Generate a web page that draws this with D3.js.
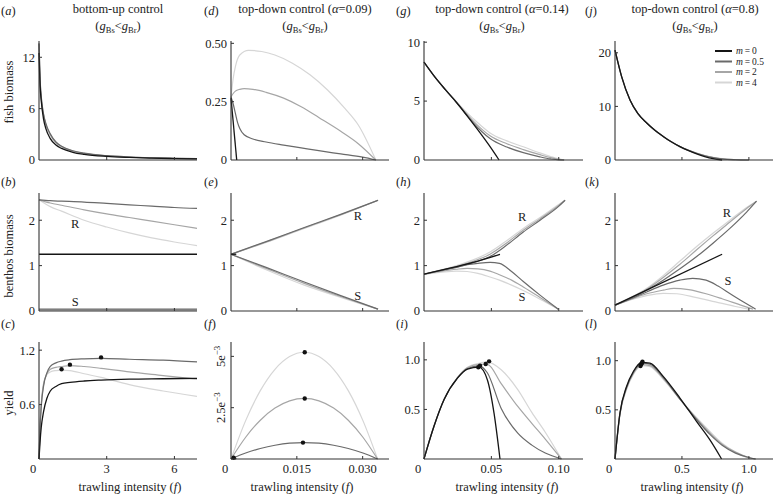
<!DOCTYPE html>
<html>
<head>
<meta charset="utf-8">
<script src="https://cdn.jsdelivr.net/npm/d3@7"></script>
<style>
  body { margin: 0; background: #fff; }
  text { font-family: "Liberation Serif", "DejaVu Serif", serif; fill: #222; }
</style>
</head>
<body>
<svg id="chart" width="774" height="497"></svg>
<script>
// shades for m = 0, 0.5, 2, 4
const shades = ["#151515", "#6a6a6a", "#a6a6a6", "#d6d6d6"];
const mValues = ["0", "0.5", "2", "4"];

// (a) fish biomass, bottom-up
const aF   = [0, 0.05, 0.1, 0.2, 0.3, 0.5, 0.75, 1, 1.5, 2, 3, 4, 5, 6, 7];
const aM0  = [12.5, 8.6, 6.9, 4.8, 3.7, 2.5, 1.75, 1.35, 0.9, 0.66, 0.42, 0.3, 0.22, 0.17, 0.13];
const aM05 = [13.6, 9.4, 7.4, 5.4, 4.3, 3.05, 2.1, 1.6, 1.08, 0.8, 0.5, 0.35, 0.26, 0.2, 0.16];
const aM2  = [13.6, 9.2, 7.2, 5.3, 4.2, 2.95, 2.05, 1.57, 1.05, 0.78, 0.48, 0.34, 0.25, 0.19, 0.15];
const aM4  = [13.6, 9.0, 7.0, 5.2, 4.1, 2.9, 2.0, 1.53, 1.02, 0.76, 0.47, 0.33, 0.24, 0.18, 0.14];

// (d) fish biomass, alpha = 0.09
const dM0F  = [0, 0.0013];
const dM0   = [0.265, 0];
const dM05F = [0, 0.0005, 0.001, 0.0015, 0.002, 0.003, 0.005, 0.008, 0.012, 0.016, 0.020, 0.025, 0.030, 0.033];
const dM05  = [0.27, 0.24, 0.2, 0.16, 0.135, 0.108, 0.09, 0.077, 0.064, 0.052, 0.04, 0.026, 0.012, 0];
const dM2F  = [0, 0.0005, 0.001, 0.002, 0.003, 0.005, 0.008, 0.012, 0.016, 0.020, 0.025, 0.029, 0.033];
const dM2   = [0.27, 0.285, 0.295, 0.303, 0.306, 0.303, 0.29, 0.265, 0.228, 0.182, 0.123, 0.07, 0];
const dM4F  = [0, 0.0005, 0.001, 0.002, 0.004, 0.007, 0.010, 0.014, 0.018, 0.022, 0.026, 0.029, 0.033];
const dM4   = [0.27, 0.35, 0.40, 0.45, 0.47, 0.465, 0.45, 0.415, 0.365, 0.3, 0.22, 0.15, 0];

// (g) fish biomass, alpha = 0.14
const gM0F   = [0, 0.008, 0.016, 0.024, 0.032, 0.040, 0.048, 0.0557];
const gM0    = [8.3, 7.05, 5.95, 4.9, 3.75, 2.55, 1.3, 0];
const gGrayF = [0, 0.008, 0.016, 0.024, 0.030, 0.0366, 0.043, 0.049, 0.0615, 0.0737, 0.086, 0.094, 0.1, 0.104];
const gM05   = [8.3, 7.05, 5.95, 4.9, 4.05, 3.15, 2.4, 1.82, 1.1, 0.62, 0.27, 0.09, 0.01, 0];
const gM2    = [8.3, 7.05, 5.95, 4.92, 4.12, 3.3, 2.6, 2.05, 1.38, 0.88, 0.45, 0.2, 0.06, 0];
const gM4    = [8.3, 7.05, 5.97, 4.97, 4.22, 3.5, 2.85, 2.3, 1.62, 1.12, 0.6, 0.3, 0.1, 0];

// (j) fish biomass, alpha = 0.8
const jM0F   = [0, 0.05, 0.112, 0.17, 0.237, 0.3, 0.36, 0.42, 0.485, 0.55, 0.61, 0.67, 0.733, 0.8];
const jM0    = [20.5, 15.5, 11.2, 8.7, 6.9, 5.5, 4.4, 3.4, 2.5, 1.75, 1.15, 0.65, 0.25, 0];
const jGrayF = [0, 0.05, 0.112, 0.17, 0.237, 0.3, 0.36, 0.42, 0.485, 0.55, 0.61, 0.67, 0.733, 0.8, 0.9, 1.0];
const jM05   = [20.5, 15.5, 11.2, 8.7, 6.9, 5.5, 4.4, 3.4, 2.5, 1.8, 1.25, 0.8, 0.45, 0.2, 0.05, 0];
const jM2    = [20.5, 15.5, 11.2, 8.7, 6.9, 5.5, 4.4, 3.4, 2.5, 1.8, 1.26, 0.82, 0.47, 0.22, 0.06, 0];
const jM4    = [20.5, 15.5, 11.2, 8.7, 6.9, 5.5, 4.4, 3.4, 2.5, 1.8, 1.27, 0.84, 0.49, 0.24, 0.07, 0];

// (b) benthos, bottom-up
const bF    = [0, 0.5, 1, 2, 3, 4, 5, 6, 7];
const bM0   = [1.25, 1.25, 1.25, 1.25, 1.25, 1.25, 1.25, 1.25, 1.25];
const bRM05 = [2.45, 2.43, 2.42, 2.4, 2.37, 2.34, 2.31, 2.28, 2.26];
const bRM2  = [2.45, 2.38, 2.33, 2.23, 2.14, 2.06, 1.98, 1.9, 1.82];
const bRM4  = [2.45, 2.3, 2.2, 2.0, 1.85, 1.72, 1.61, 1.52, 1.44];
const bSM05 = [0.04, 0.04, 0.04, 0.04, 0.04, 0.04, 0.04, 0.04, 0.04];
const bSM2  = [0.025, 0.025, 0.025, 0.025, 0.025, 0.025, 0.025, 0.025, 0.025];
const bSM4  = [0.012, 0.012, 0.012, 0.012, 0.012, 0.012, 0.012, 0.012, 0.012];

// (e) benthos, alpha = 0.09
const eM0F  = [0, 0.0012];
const eM0   = [1.25, 1.25];
const eF    = [0, 0.008, 0.0167, 0.025, 0.0335];
const eRM05 = [1.25, 1.53, 1.84, 2.13, 2.44];
const eRM2  = [1.25, 1.52, 1.83, 2.12, 2.44];
const eRM4  = [1.25, 1.51, 1.82, 2.11, 2.44];
const eSM05 = [1.25, 0.96, 0.64, 0.34, 0.04];
const eSM2  = [1.25, 0.94, 0.61, 0.32, 0.04];
const eSM4  = [1.25, 0.91, 0.57, 0.3, 0.04];

// (h) benthos, alpha = 0.14
const hM0F  = [0, 0.02, 0.04, 0.0564];
const hM0   = [0.81, 0.95, 1.1, 1.25];
const hRF   = [0, 0.012, 0.024, 0.036, 0.049, 0.06, 0.0737, 0.0861, 0.0997, 0.1047];
const hRM05 = [0.81, 0.88, 0.96, 1.06, 1.2, 1.42, 1.74, 2.0, 2.3, 2.44];
const hRM2  = [0.81, 0.89, 0.98, 1.09, 1.25, 1.47, 1.78, 2.03, 2.32, 2.44];
const hRM4  = [0.81, 0.9, 1.0, 1.12, 1.3, 1.52, 1.82, 2.06, 2.34, 2.44];
const hSF   = [0, 0.012, 0.024, 0.032, 0.04, 0.049, 0.056, 0.065, 0.0737, 0.0861, 0.0997];
const hSM05 = [0.81, 0.89, 0.97, 1.02, 1.05, 1.07, 1.05, 0.87, 0.65, 0.35, 0.04];
const hSM2  = [0.81, 0.87, 0.92, 0.94, 0.93, 0.88, 0.8, 0.68, 0.53, 0.3, 0.04];
const hSM4  = [0.81, 0.85, 0.88, 0.87, 0.83, 0.75, 0.68, 0.57, 0.45, 0.26, 0.04];

// (k) benthos, alpha = 0.8
const kM0F   = [0, 0.8];
const kM0    = [0.13, 1.25];
const kRF    = [0, 0.12, 0.237, 0.36, 0.485, 0.61, 0.734, 0.858, 0.983, 1.057];
const kRM05  = [0.13, 0.28, 0.46, 0.68, 0.93, 1.2, 1.5, 1.82, 2.18, 2.42];
const kRM2   = [0.13, 0.29, 0.48, 0.74, 1.03, 1.35, 1.66, 1.96, 2.26, 2.42];
const kRM4   = [0.13, 0.3, 0.5, 0.78, 1.1, 1.42, 1.72, 2.0, 2.28, 2.42];
const kSM05F = [0, 0.12, 0.237, 0.36, 0.485, 0.58, 0.68, 0.77, 0.86, 0.96, 1.05];
const kSM05  = [0.13, 0.27, 0.42, 0.57, 0.68, 0.72, 0.68, 0.55, 0.38, 0.2, 0.04];
const kSM2F  = [0, 0.12, 0.237, 0.36, 0.44, 0.55, 0.68, 0.8, 0.92, 1.03];
const kSM2   = [0.13, 0.26, 0.38, 0.46, 0.5, 0.47, 0.38, 0.27, 0.15, 0.04];
const kSM4F  = [0, 0.12, 0.237, 0.36, 0.46, 0.6, 0.75, 0.9, 1.0];
const kSM4   = [0.13, 0.25, 0.34, 0.39, 0.38, 0.3, 0.2, 0.1, 0.04];

// (c) yield, bottom-up
const cF    = [0, 0.05, 0.1, 0.2, 0.35, 0.5, 0.75, 1, 1.37, 2, 2.75, 4, 5.5, 7];
const cM0   = [0, 0.2, 0.35, 0.52, 0.67, 0.75, 0.8, 0.83, 0.845, 0.86, 0.87, 0.88, 0.885, 0.89];
const cM05  = [0, 0.35, 0.58, 0.8, 0.95, 1.02, 1.06, 1.08, 1.095, 1.105, 1.11, 1.1, 1.09, 1.07];
const cM2   = [0, 0.38, 0.6, 0.82, 0.94, 0.99, 1.01, 1.02, 1.03, 1.02, 1.0, 0.96, 0.92, 0.88];
const cM4   = [0, 0.4, 0.62, 0.83, 0.93, 0.96, 0.975, 0.98, 0.975, 0.94, 0.9, 0.82, 0.75, 0.69];
const cDotF = [1.0, 1.37, 2.75];
const cDotY = [0.99, 1.04, 1.12];

// (f) yield, alpha = 0.09
const fM0F  = [0, 0.0006, 0.0012];
const fM0   = [0, 0.00006, 0];
const fF    = [0, 0.00334, 0.00668, 0.01002, 0.01336, 0.0167, 0.02004, 0.02338, 0.02672, 0.03006, 0.0334];
const fM05  = [0, 0.29e-3, 0.51e-3, 0.67e-3, 0.77e-3, 0.8e-3, 0.77e-3, 0.67e-3, 0.51e-3, 0.29e-3, 0];
const fM2   = [0, 1.06e-3, 1.89e-3, 2.48e-3, 2.83e-3, 2.95e-3, 2.83e-3, 2.48e-3, 1.89e-3, 1.06e-3, 0];
const fM4   = [0, 1.87e-3, 3.33e-3, 4.37e-3, 4.99e-3, 5.2e-3, 4.99e-3, 4.37e-3, 3.33e-3, 1.87e-3, 0];
const fDotF = [0.0006, 0.0164, 0.0168, 0.0168];
const fDotY = [0.00006, 0.8e-3, 2.95e-3, 5.2e-3];

// (i) yield, alpha = 0.14
const iM0F   = [0, 0.0074, 0.0149, 0.0248, 0.0322, 0.0408, 0.047, 0.052, 0.0564];
const iM0    = [0, 0.33, 0.6, 0.815, 0.906, 0.926, 0.8, 0.46, 0];
const iGrayF = [0, 0.0074, 0.0149, 0.0248, 0.0322, 0.0408, 0.047, 0.0573, 0.0696, 0.08, 0.09, 0.102];
const iM05   = [0, 0.33, 0.6, 0.815, 0.91, 0.94, 0.87, 0.51, 0.26, 0.14, 0.06, 0];
const iM2    = [0, 0.33, 0.6, 0.82, 0.92, 0.955, 0.955, 0.76, 0.53, 0.36, 0.2, 0];
const iM4    = [0, 0.33, 0.6, 0.82, 0.925, 0.965, 0.98, 0.9, 0.7, 0.47, 0.27, 0];
const iDotF  = [0.0403, 0.0416, 0.0458, 0.0483];
const iDotY  = [0.926, 0.94, 0.958, 0.985];

// (l) yield, alpha = 0.8
const lM0F   = [0, 0.0373, 0.087, 0.137, 0.199, 0.261, 0.36, 0.485, 0.61, 0.709, 0.796];
const lM0    = [0, 0.47, 0.74, 0.89, 0.983, 0.976, 0.84, 0.62, 0.38, 0.194, 0];
const lGrayF = [0, 0.0373, 0.087, 0.137, 0.199, 0.261, 0.36, 0.485, 0.61, 0.709, 0.8, 0.9, 1.0, 1.05];
const lM05   = [0, 0.47, 0.73, 0.88, 0.975, 0.965, 0.83, 0.61, 0.4, 0.25, 0.14, 0.06, 0.015, 0];
const lM2    = [0, 0.46, 0.72, 0.87, 0.96, 0.95, 0.82, 0.61, 0.41, 0.265, 0.15, 0.07, 0.015, 0];
const lM4    = [0, 0.45, 0.71, 0.86, 0.95, 0.94, 0.81, 0.61, 0.42, 0.28, 0.16, 0.07, 0.01, 0];
const lDotF  = [0.19, 0.195, 0.2, 0.205];
const lDotY  = [0.945, 0.96, 0.975, 0.99];

// axes
const xDomainMax = [7, 0.036, 0.118, 1.18];
const xTicks     = [[0, 3, 6], [0, 0.015, 0.030], [0, 0.05, 0.10], [0, 0.5, 1.0]];
const xTickText  = [["0", "3", "6"], ["0", "0.015", "0.030"], ["0", "0.05", "0.10"], ["0", "0.5", "1.0"]];
const yDomainMax = [[13.9, 0.51, 10.1, 22.2], [2.6, 2.6, 2.6, 2.6], [1.29, 0.0057, 1.18, 1.19]];
const yTicks     = [[[0, 6, 12], [0, 0.25, 0.5], [0, 5, 10], [0, 10, 20]],
                    [[0, 1, 2], [0, 1, 2], [0, 1, 2], [0, 1, 2]],
                    [[0.6, 1.2], [0.0025, 0.005], [0.5, 1.0], [0.5, 1.0]]];
const yTickText  = [[["0", "6", "12"], ["0", "0.25", "0.50"], ["0", "5", "10"], ["0", "10", "20"]],
                    [["0", "1", "2"], ["0", "1", "2"], ["0", "1", "2"], ["0", "1", "2"]],
                    [["0.6", "1.2"], ["2.5e", "5e"], ["0.5", "1.0"], ["0.5", "1.0"]]];

const titles    = ["bottom-up control", "top-down control (", "top-down control (", "top-down control ("];
const alphas    = [null, "0.09", "0.14", "0.8"];
const letters   = [["a", "b", "c"], ["d", "e", "f"], ["g", "h", "i"], ["j", "k", "l"]];
const rowTitles = ["fish biomass", "benthos biomass", "yield"];

// layout
const svg = d3.select("#chart");
const cols = [[39, 197], [231, 389], [424, 583], [615, 773]];
const rows = [[41, 160], [193, 311], [342, 459]];
const titleX = [118, 305, 502, 695];
const xLabelX = [130, 302, 507, 692];
const letterX = [1, 204, 396, 585];
const letterY = [15, 186, 328];

const panels = [
  { c: 0, r: 0, lines: [[aF, aM4, 3], [aF, aM2, 2], [aF, aM05, 1], [aF, aM0, 0]] },
  { c: 1, r: 0, lines: [[dM4F, dM4, 3], [dM2F, dM2, 2], [dM05F, dM05, 1], [dM0F, dM0, 0]] },
  { c: 2, r: 0, lines: [[gGrayF, gM4, 3], [gGrayF, gM2, 2], [gGrayF, gM05, 1], [gM0F, gM0, 0]] },
  { c: 3, r: 0, lines: [[jGrayF, jM4, 3], [jGrayF, jM2, 2], [jGrayF, jM05, 1], [jM0F, jM0, 0]] },
  { c: 0, r: 1, lines: [[bF, bRM4, 3], [bF, bRM2, 2], [bF, bRM05, 1], [bF, bSM4, 3], [bF, bSM2, 2], [bF, bSM05, 1], [bF, bM0, 0]],
    notes: [["R", 1.6, 1.89], ["S", 1.6, 0.18]] },
  { c: 1, r: 1, lines: [[eF, eRM4, 3], [eF, eRM2, 2], [eF, eRM05, 1], [eF, eSM4, 3], [eF, eSM2, 2], [eF, eSM05, 1], [eM0F, eM0, 0]],
    notes: [["R", 0.0289, 2.07], ["S", 0.0289, 0.31]] },
  { c: 2, r: 1, lines: [[hRF, hRM4, 3], [hRF, hRM2, 2], [hRF, hRM05, 1], [hSF, hSM4, 3], [hSF, hSM2, 2], [hSF, hSM05, 1], [hM0F, hM0, 0]],
    notes: [["R", 0.0728, 2.04], ["S", 0.0728, 0.29]] },
  { c: 3, r: 1, lines: [[kRF, kRM4, 3], [kRF, kRM2, 2], [kRF, kRM05, 1], [kSM4F, kSM4, 3], [kSM2F, kSM2, 2], [kSM05F, kSM05, 1], [kM0F, kM0, 0]],
    notes: [["R", 0.836, 2.13], ["S", 0.843, 0.64]] },
  { c: 0, r: 2, lines: [[cF, cM4, 3], [cF, cM2, 2], [cF, cM05, 1], [cF, cM0, 0]], dots: [cDotF, cDotY] },
  { c: 1, r: 2, lines: [[fF, fM4, 3], [fF, fM2, 2], [fF, fM05, 1], [fM0F, fM0, 0]], dots: [fDotF, fDotY] },
  { c: 2, r: 2, lines: [[iGrayF, iM4, 3], [iGrayF, iM2, 2], [iGrayF, iM05, 1], [iM0F, iM0, 0]], dots: [iDotF, iDotY] },
  { c: 3, r: 2, lines: [[lGrayF, lM4, 3], [lGrayF, lM2, 2], [lGrayF, lM05, 1], [lM0F, lM0, 0]], dots: [lDotF, lDotY] }
];

function drawPanel(p) {
  const x = d3.scaleLinear().domain([0, xDomainMax[p.c]]).range(cols[p.c]);
  const y = d3.scaleLinear().domain([0, yDomainMax[p.r][p.c]]).range([rows[p.r][1], rows[p.r][0]]);
  const g = svg.append("g");
  const line = d3.line().x(d => x(d[0])).y(d => y(d[1])).curve(d3.curveMonotoneX);

  p.lines.forEach(([xs, ys, m]) => {
    g.append("path")
      .datum(xs.map((v, i) => [v, ys[i]]))
      .attr("d", line)
      .attr("fill", "none")
      .attr("stroke", shades[m])
      .attr("stroke-width", m === 0 ? 1.3 : 1.2);
  });

  if (p.dots) {
    g.selectAll("circle").data(p.dots[0].map((v, i) => [v, p.dots[1][i]])).enter()
      .append("circle")
      .attr("cx", d => x(d[0])).attr("cy", d => y(d[1]))
      .attr("r", 2.2).attr("fill", "#111");
  }

  if (p.notes) {
    p.notes.forEach(([t, fx, fy]) => {
      g.append("text").attr("x", x(fx)).attr("y", y(fy))
        .attr("text-anchor", "middle").attr("dominant-baseline", "middle")
        .style("font-size", "12.5px").text(t);
    });
  }

  // axes with small inward ticks
  const x0 = cols[p.c][0], x1 = cols[p.c][1], yb = rows[p.r][1], yt = rows[p.r][0];
  g.append("line").attr("x1", x0).attr("x2", x1).attr("y1", yb).attr("y2", yb).attr("stroke", "#333").attr("stroke-width", 1.1);
  g.append("line").attr("x1", x0).attr("x2", x0).attr("y1", yb).attr("y2", yt).attr("stroke", "#333").attr("stroke-width", 1.1);

  xTicks[p.c].forEach((t, i) => {
    if (t > 0) g.append("line").attr("x1", x(t)).attr("x2", x(t)).attr("y1", yb).attr("y2", yb - 3).attr("stroke", "#333");
    if (p.r === 2) {
      g.append("text").attr("x", x(t) - (t === 0 ? 6 : 0)).attr("y", yb + 14)
        .attr("text-anchor", "middle").style("font-size", "12.5px").text(xTickText[p.c][i]);
    }
  });

  yTicks[p.r][p.c].forEach((t, i) => {
    if (t > 0) g.append("line").attr("x1", x0).attr("x2", x0 + 3).attr("y1", y(t)).attr("y2", y(t)).attr("stroke", "#333");
    const label = yTickText[p.r][p.c][i];
    if (p.c === 1 && p.r === 2) {
      // rotated scientific labels
      const tx = g.append("text").attr("transform", `translate(${x0 - 6},${y(t)}) rotate(-90)`)
        .attr("text-anchor", "middle").style("font-size", "12.5px");
      tx.append("tspan").text(label);
      tx.append("tspan").attr("dy", -5).style("font-size", "9px").text("\u22123");
    } else {
      g.append("text").attr("x", x0 - 4).attr("y", y(t)).attr("dy", "0.35em")
        .attr("text-anchor", "end").style("font-size", "12.5px").text(label);
    }
  });
}

panels.forEach(drawPanel);

// column titles
function subLine(cx, cy) {
  const t = svg.append("text").attr("x", cx).attr("y", cy).attr("text-anchor", "middle").style("font-size", "12.5px");
  t.append("tspan").text("(");
  t.append("tspan").style("font-style", "italic").text("g");
  t.append("tspan").attr("dy", 3).style("font-size", "8.5px").text("Bs");
  t.append("tspan").attr("dy", -3).text("<");
  t.append("tspan").style("font-style", "italic").text("g");
  t.append("tspan").attr("dy", 3).style("font-size", "8.5px").text("Br");
  t.append("tspan").attr("dy", -3).text(")");
}

titles.forEach((tt, c) => {
  const t = svg.append("text").attr("x", titleX[c]).attr("y", 13).attr("text-anchor", "middle").style("font-size", "12.5px");
  t.append("tspan").text(tt);
  if (alphas[c]) {
    t.append("tspan").style("font-style", "italic").text("\u03b1");
    t.append("tspan").text("=" + alphas[c] + ")");
  }
  subLine(titleX[c], 30);
});

// panel letters
letters.forEach((col, c) => col.forEach((l, r) => {
  const t = svg.append("text").attr("x", letterX[c]).attr("y", letterY[r]).style("font-size", "12.5px");
  t.append("tspan").text("(");
  t.append("tspan").style("font-style", "italic").text(l);
  t.append("tspan").text(")");
}));

// row titles
const rowMid = [92, 256, 403];
rowTitles.forEach((t, r) => {
  svg.append("text").attr("transform", `translate(13,${rowMid[r]}) rotate(-90)`)
    .attr("text-anchor", "middle").style("font-size", "12.5px").text(t);
});

// x axis labels
xLabelX.forEach(cx => {
  const t = svg.append("text").attr("x", cx).attr("y", 491).attr("text-anchor", "middle").style("font-size", "12.5px");
  t.append("tspan").text("trawling intensity (");
  t.append("tspan").style("font-style", "italic").text("f");
  t.append("tspan").text(")");
});

// legend in panel (j)
const legend = svg.append("g").attr("transform", "translate(715,51)");
mValues.forEach((m, i) => {
  legend.append("line").attr("x1", 0).attr("x2", 17).attr("y1", i * 10.5).attr("y2", i * 10.5)
    .attr("stroke", shades[i]).attr("stroke-width", 2);
  const t = legend.append("text").attr("x", 21).attr("y", i * 10.5).attr("dy", "0.33em").style("font-size", "9.5px");
  t.append("tspan").style("font-style", "italic").text("m");
  t.append("tspan").text("\u2009=\u2009" + m);
});
</script>
</body>
</html>
